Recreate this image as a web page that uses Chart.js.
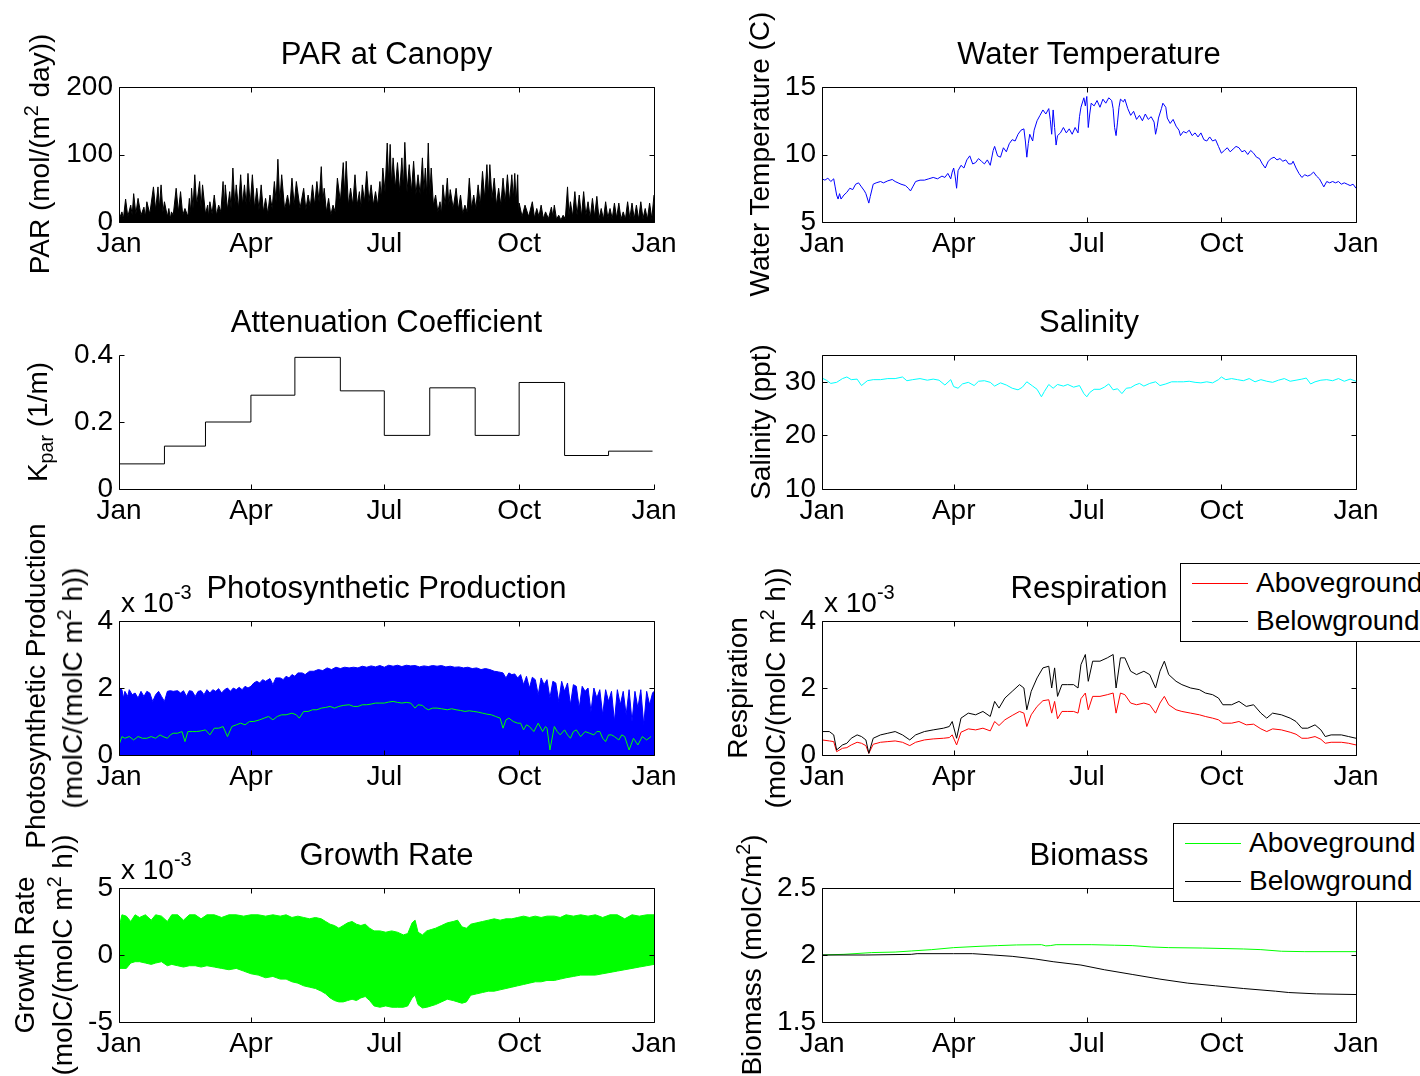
<!DOCTYPE html>
<html><head><meta charset="utf-8">
<script src="https://cdn.jsdelivr.net/npm/chart.js@4.4.1/dist/chart.umd.min.js"></script>
<style>
html,body{margin:0;padding:0;background:#fff;}
#fig{position:relative;width:1420px;height:1076px;overflow:hidden;background:#fff;font-family:"Liberation Sans",Arial,Helvetica,sans-serif;color:#000;}
#fig canvas{position:absolute;}
.t{position:absolute;white-space:nowrap;line-height:1;}
.title{font-size:31px;text-align:center;width:600px;}
.yl{font-size:28px;transform:translate(-50%,-50%) rotate(-90deg);}
.sup{font-size:0.7em;position:relative;top:-0.55em;}
.sub{font-size:0.7em;position:relative;top:0.3em;}
.mult{font-size:28px;}
.sup3{font-size:20px;position:relative;top:-13px;}
.leg{position:absolute;border:1px solid #000;background:#fff;box-sizing:border-box;}
.lline{position:absolute;height:1px;}
.lt{font-size:28px;}
</style>
</head><body>
<div id="fig"></div>
<script>
// ---------- shared axis data ----------
const monthTickDays = [0, 90, 181, 273, 365];
const monthTickLabels = ['Jan', 'Apr', 'Jul', 'Oct', 'Jan'];

// ---------- PAR at Canopy ----------
const parTicks = [0, 100, 200];
const parTickLabels = ['0', '100', '200'];
const parDays = [
 0,2,3,4.5,6,8,9,10,11.5,13,
 15,17,18,19,21,23.5,25,26.6,27.5,28.7,
 30,31,33,34,35,35.8,37,39,40.5,42,
 43.5,45,47,48,49,49.5,50.5,51.7,53,55,
 56,57,59,60.5,61,62,63.5,65,66.5,68,
 69.5,71,71.8,72.5,74,75.5,76.5,77.7,79,80,
 81.5,83,84.3,85.6,86.8,88,89.5,91,92.5,94,
 95.5,97,98.5,100,101.5,103,104.5,106,107.2,108.4,
 109.7,111,113,115,116.5,118,119.5,121,123.5,126,
 127.5,129,130.5,132,133.5,135,136.5,138,139,140,
 141.5,143,144.5,146,147.5,149,151,153,154,155,
 156.5,158,159.5,161,162.5,164,165,166,167.5,169,
 170.5,172,173.5,175,176.5,178,179,180,181.5,183,
 184,185,186,187,188.5,190,191.5,193,194,195,
 196.5,198,199.5,201,202.5,204,205.5,207,208,209,
 210,211,212,213,214.5,216,217.5,219,220,221,
 222.5,224,225,226,228,230,231.5,233,234.5,236,
 237.5,239,240.5,242,243.5,245,246.5,248,249.5,251,
 252,253,254.5,256,257.5,259,260.5,262,263.5,265,
 266.5,268,269,270,271,272,272.6,273,275,277,
 279.5,282,283.5,285,286.5,288,289.5,291,293,295,
 296,297,298.5,300,301.5,303,304.5,306,307,308,
 309.5,311,312.5,314,315.5,317,318.5,320,321.5,323,
 324.5,326,327.5,329,330.5,332,333.5,335,336.5,338,
 339.5,341,342.5,344,345.5,347,348.5,350,351.5,353,
 354.5,356,357.5,359,360.5,362,363.5,365];
const parValues = [
 3,15,5,34,8,25,10,42,12,35,
 10,22,8,30,12,52,18,52,20,55,
 15,30,8,20,5,15,10,50,15,45,
 10,20,8,35,15,50,20,70,25,60,
 20,55,12,25,8,30,12,40,10,25,
 15,60,20,55,18,45,20,80,25,55,
 20,70,25,55,25,72,25,70,20,50,
 18,55,15,35,12,40,20,60,30,93,
 30,70,18,40,20,65,25,60,20,50,
 18,40,22,55,25,60,30,82,30,50,
 15,35,10,25,15,65,30,88,40,90,
 25,50,25,70,25,45,22,55,30,75,
 30,55,25,45,25,60,35,80,45,117,
 60,115,55,95,50,88,45,95,50,118,
 45,85,45,90,40,70,40,95,45,80,
 40,117,40,80,25,40,15,30,12,55,
 25,65,25,48,20,50,18,40,12,25,
 15,65,20,40,20,55,25,75,35,85,
 40,85,35,65,25,50,25,65,30,70,
 30,70,35,72,30,70,10,28,8,25,
 8,30,6,20,8,25,5,15,5,22,
 8,25,4,10,3,10,5,52,10,30,
 8,45,10,40,8,45,10,30,6,35,
 8,38,5,20,4,30,6,20,5,28,
 6,28,4,15,4,30,5,28,5,25,
 4,30,5,20,4,28,5,40];

// ---------- Water Temperature ----------
const tempTicks = [5, 10, 15];
const tempTickLabels = ['5', '10', '15'];
const tempDays = [
 0,2,4,6,8,9,10,11,12,13,
 15,17,19,21,23,25,27,29,30,32,
 33,35,37,40,42,45,48,50,52,54,
 57,59,60.5,62,64,67,70,73,76,79,
 82,84,86,88,89,90,91,92,93,95,
 97,99,101,103,105,107,109,111,113,115,
 117,118,120,122,124,126,128,130,132,134,
 136,138,139,140,141,142,144,145,147,149,
 151,153,155,156,157,158,159,160,161,163,
 165,167,169,171,173,175,176,177,179,180,
 181,182,183,184,186,188,190,192,194,196,
 198,199,200,201,202,203,204,206,207,209,
 211,213,215,217,219,221,223,225,227,228,
 229,230,232,233,235,236,238,240,242,244,
 245,247,249,251,253,255,257,259,261,263,
 265,267,269,271,273,275,277,279,281,283,
 285,287,289,291,293,295,297,299,301,303,
 305,307,309,311,313,315,317,319,321,322,
 324,326,328,330,332,334,336,338,340,342,
 343,345,347,349,351,353,355,357,359,361,
 363,365];
const tempValues = [
 8.2,8.1,8.25,8.0,8.2,7.6,7.0,6.7,7.1,6.7,
 7.0,7.2,7.5,7.4,7.8,7.9,7.6,7.3,7.1,6.4,
 6.9,7.8,7.9,8.0,7.9,8.05,8.15,8.0,7.9,7.8,
 7.7,7.5,7.3,7.6,8.0,8.1,8.1,8.2,8.3,8.2,
 8.4,8.3,8.6,8.2,8.7,9.0,8.4,7.5,8.8,9.2,
 9.0,9.6,9.9,9.3,9.4,9.7,9.5,9.3,9.6,9.2,
 10.3,10.6,9.9,9.8,10.5,10.2,10.8,11.1,11.0,11.5,
 11.8,11.9,11.0,9.8,10.8,11.5,11.0,11.8,12.5,12.9,
 13.3,13.0,13.4,12.6,11.5,13.3,12.0,10.7,11.4,11.6,
 12.0,11.6,11.9,11.5,12.0,11.6,12.8,13.5,14.2,13.6,
 14.3,12.0,13.0,13.8,13.6,14.0,13.5,14.1,13.8,14.2,
 14.0,13.4,12.0,11.4,12.4,13.5,14.1,13.9,14.1,13.4,
 12.9,13.2,12.6,12.9,12.5,13.0,12.6,12.8,12.4,11.5,
 12.0,12.7,13.4,13.8,13.5,12.7,12.3,12.6,12.1,11.8,
 11.4,11.7,11.6,11.8,11.4,11.6,11.3,11.6,11.1,11.0,
 11.3,11.0,11.1,10.6,10.1,10.3,10.5,10.2,10.4,10.6,
 10.5,10.2,10.3,10.0,10.3,10.1,9.8,9.7,9.3,9.0,
 9.5,9.7,9.8,9.6,9.7,9.5,9.6,9.3,9.3,9.5,
 9.0,8.6,8.3,8.5,8.4,8.5,8.7,8.4,8.2,7.8,
 7.6,8.0,7.9,8.0,7.9,8.0,7.8,7.9,7.8,7.7,
 7.8,7.5];

// ---------- Attenuation Coefficient ----------
const kparTicks = [0, 0.2, 0.4];
const kparTickLabels = ['0', '0.2', '0.4'];
const kparDays = [0, 31, 59, 90, 120, 151, 181, 212, 243, 273, 304, 334, 364];
const kparValues = [0.075, 0.128, 0.2, 0.28, 0.393, 0.293, 0.16, 0.302, 0.16, 0.318, 0.10, 0.113, 0.113];

// ---------- Salinity ----------
const salTicks = [10, 20, 30];
const salTickLabels = ['10', '20', '30'];
const salDays = [
 0,3,6,10,14,17,20,24,27,31,
 35,40,45,50,55,58,62,67,72,76,
 80,84,88,90,93,96,100,104,107,111,
 115,118,122,126,130,134,137,140,144,147,
 150,152,155,158,161,165,168,172,176,179,
 181,183,186,190,193,196,199,202,205,208,
 211,214,217,220,224,228,231,235,239,243,
 247,251,255,259,263,267,271,273,276,280,
 284,288,292,296,300,304,308,312,316,320,
 324,328,331,334,337,341,345,349,353,357,
 361,365];
const salValues = [
 30.7,30.3,29.7,29.9,30.6,30.9,30.4,30.5,29.3,30.2,
 30.4,30.4,30.6,30.6,30.9,30.2,30.4,30.6,30.3,30.5,
 30.3,29.4,30.4,29.1,28.8,29.6,29.9,29.3,30.1,30.2,
 29.9,29.2,29.8,29.4,28.8,28.5,29.0,30.0,29.2,28.6,
 27.2,28.2,29.5,28.8,29.5,29.2,29.5,29.0,29.3,27.8,
 27.2,28.0,28.6,28.6,29.0,29.6,28.5,28.7,27.8,28.8,
 28.9,29.4,29.7,29.2,29.7,30.0,29.3,29.6,30.0,30.0,
 30.0,30.1,29.9,29.8,30.0,29.8,30.4,30.9,30.4,30.6,
 30.4,30.2,30.6,30.0,30.4,30.1,29.9,30.3,30.6,30.1,
 30.3,30.5,30.7,29.6,30.0,30.3,30.4,30.2,30.6,30.1,
 30.5,30.1];

// ---------- Photosynthetic Production (x 1e-3) ----------
const photoTicks = [0, 2, 4];
const photoTickLabels = ['0', '2', '4'];
const photoEnvDays = [
 0,2,3,4,6,7,9,11,13,15,
 17,19,21,23,25,27,29,31,33,35,
 37,40,42,44,46,48,50,52,54,56,
 58,60,62,64,66,68,70,72,74,76,
 78,80,82,84,86,88,90,92,94,96,
 98,100,103,105,107,110,112,114,116,118,
 120,122,125,127,130,133,136,139,142,145,
 148,151,154,157,160,163,166,169,172,175,
 178,181,184,187,190,193,196,199,202,205,
 208,211,214,217,220,223,226,229,232,235,
 238,241,244,247,250,253,256,259,262,264,
 266,268,270,272,274,276,278,280,282,284,
 286,288,290,292,294,296,298,300,302,304,
 306,308,310,312,314,316,318,320,322,324,
 326,328,330,332,334,336,338,340,342,344,
 346,348,350,352,354,356,358,360,362,364,365];
const photoEnvValues = [
 2.0,1.95,1.7,1.9,1.75,1.95,1.8,1.85,1.7,1.9,
 1.75,1.9,1.85,1.6,1.8,1.9,1.75,1.6,1.9,1.92,
 1.9,1.92,1.85,1.92,1.75,1.92,1.9,1.75,1.9,1.92,
 1.8,1.95,1.85,1.95,1.9,1.98,1.85,1.95,2.0,1.9,
 2.0,1.95,2.02,1.95,2.05,2.0,2.05,2.15,2.2,2.15,
 2.25,2.2,2.28,2.1,2.3,2.3,2.25,2.35,2.3,2.4,
 2.35,2.45,2.45,2.4,2.5,2.5,2.55,2.52,2.6,2.55,
 2.62,2.58,2.62,2.6,2.62,2.6,2.65,2.62,2.66,2.63,
 2.67,2.62,2.68,2.65,2.68,2.64,2.68,2.66,2.67,2.63,
 2.66,2.64,2.67,2.65,2.67,2.63,2.65,2.62,2.63,2.6,
 2.62,2.58,2.6,2.55,2.58,2.55,2.5,2.48,2.45,2.3,
 2.45,2.4,2.42,2.3,2.4,2.1,2.35,2.0,2.32,2.25,
 1.8,2.3,2.1,2.25,1.7,2.2,2.15,1.6,2.2,1.9,
 2.15,1.5,2.1,2.05,1.4,2.05,1.9,2.0,1.3,2.0,
 1.7,1.95,1.2,1.95,1.6,1.9,1.0,1.95,1.5,1.9,
 1.2,1.95,1.0,1.9,1.4,1.95,0.9,1.9,1.5,1.85,1.9];
const photoMeanDays = [
 0,2,4,7,10,13,16,19,22,25,
 28,30,33,35,37,40,43,45,47,50,
 53,56,59,62,65,68,71,74,77,80,
 83,86,89,92,96,99,102,105,108,111,
 114,118,121,123,126,129,132,135,138,141,
 144,147,150,153,157,160,163,166,169,172,
 175,178,181,184,187,190,193,196,199,202,
 204,207,209,211,214,217,220,224,227,230,
 233,236,239,242,245,248,251,254,257,260,
 262,264,266,269,272,274,276,278,280,283,
 286,289,291,292,294,297,299,301,304,306,
 308,310,312,315,318,321,324,326,328,330,
 332,334,336,338,341,343,345,348,351,354,
 357,360,363];
const photoMeanValues = [
 0.3,0.55,0.5,0.55,0.45,0.55,0.5,0.5,0.55,0.5,
 0.6,0.55,0.5,0.6,0.65,0.65,0.7,0.4,0.7,0.7,
 0.7,0.72,0.75,0.6,0.8,0.8,0.85,0.55,0.85,0.9,
 0.95,0.9,1.0,1.0,1.05,1.1,1.15,1.05,1.15,1.2,
 1.2,1.25,1.2,1.1,1.3,1.3,1.35,1.35,1.4,1.42,
 1.45,1.4,1.45,1.48,1.5,1.45,1.45,1.5,1.5,1.52,
 1.55,1.55,1.55,1.58,1.6,1.57,1.55,1.57,1.55,1.4,
 1.5,1.48,1.4,1.35,1.4,1.4,1.38,1.35,1.38,1.35,
 1.33,1.3,1.32,1.3,1.28,1.25,1.22,1.2,1.15,1.1,
 0.8,1.05,1.1,1.0,0.95,0.95,0.75,0.9,0.85,0.7,
 0.95,0.7,0.85,0.8,0.15,0.85,0.7,0.6,0.75,0.6,
 0.5,0.7,0.75,0.55,0.7,0.65,0.6,0.7,0.7,0.5,
 0.4,0.6,0.6,0.55,0.45,0.6,0.55,0.15,0.5,0.3,
 0.55,0.45,0.55];

// ---------- Respiration (x 1e-3) ----------
const respTicks = [0, 2, 4];
const respTickLabels = ['0', '2', '4'];
const respDays = [
 0,5,8,10,14,17,20,24,27,30,
 32,35,40,45,50,55,60,64,70,76,
 83,87,89,92,95,100,105,110,115,118,
 121,125,130,135,138,140,143,147,151,155,
 157,159,161,164,168,172,175,177,180,182,
 185,190,195,199,201,204,207,211,215,220,
 224,228,231,234,237,242,246,252,258,262,
 267,271,274,280,285,290,295,300,304,308,
 314,320,324,328,332,337,341,344,348,355,
 360,365];
const respBelow = [
 0.7,0.7,0.6,0.15,0.3,0.35,0.5,0.6,0.55,0.45,
 0.05,0.5,0.6,0.65,0.7,0.6,0.45,0.6,0.7,0.75,
 0.8,0.85,1.0,0.5,1.1,1.25,1.2,1.3,1.15,1.6,
 1.4,1.7,1.9,2.1,2.0,1.35,1.9,2.3,2.6,2.65,
 2.0,2.6,1.75,2.1,2.1,2.1,2.0,2.7,3.0,2.2,
 2.8,2.8,2.9,3.0,2.0,2.9,2.9,2.5,2.4,2.5,
 2.4,2.0,2.5,2.8,2.4,2.2,2.1,2.0,1.95,1.85,
 1.8,1.7,1.5,1.5,1.6,1.45,1.5,1.25,1.1,1.25,
 1.2,1.1,1.0,0.8,0.8,0.9,0.75,0.55,0.6,0.6,
 0.55,0.5];
const respAbove = [
 0.45,0.42,0.4,0.1,0.2,0.22,0.3,0.38,0.35,0.28,
 0.05,0.32,0.38,0.4,0.42,0.38,0.28,0.38,0.45,0.48,
 0.5,0.52,0.6,0.3,0.68,0.78,0.75,0.8,0.72,1.0,
 0.88,1.05,1.18,1.3,1.25,0.85,1.2,1.45,1.62,1.65,
 1.25,1.6,1.08,1.3,1.3,1.3,1.25,1.68,1.85,1.35,
 1.75,1.75,1.8,1.85,1.25,1.85,1.8,1.55,1.5,1.55,
 1.5,1.25,1.55,1.75,1.5,1.35,1.3,1.25,1.2,1.15,
 1.1,1.05,0.95,0.95,1.0,0.9,0.92,0.78,0.7,0.78,
 0.75,0.68,0.62,0.5,0.5,0.55,0.47,0.35,0.38,0.38,
 0.35,0.3];

// ---------- Growth Rate (x 1e-3) ----------
const growthTicks = [-5, 0, 5];
const growthTickLabels = ['-5', '0', '5'];
const growthDays = [
 0,2,5,8,11,14,18,22,25,29,
 33,36,40,44,48,52,56,60,65,70,
 75,80,85,90,95,100,105,110,114,118,
 122,126,130,134,138,141,144,147,150,153,
 156,159,162,165,168,171,174,178,182,186,
 190,194,197,200,202,204,207,210,213,216,
 220,224,228,231,234,237,240,244,248,252,
 256,260,264,268,272,276,280,284,288,292,
 297,301,305,310,315,320,325,330,335,340,
 345,350,355,360,365];
const growthUpper = [
 2.0,3.0,2.9,2.5,3.0,2.8,3.0,2.6,3.0,2.9,
 2.5,3.0,3.0,2.6,3.0,3.0,2.7,3.0,3.0,2.8,
 3.0,3.0,2.9,3.0,3.0,2.9,3.0,2.9,3.0,2.8,
 2.9,2.8,2.7,2.8,2.7,2.5,2.3,2.2,2.0,2.2,
 2.4,2.5,2.3,2.2,2.3,2.0,1.8,1.8,1.7,1.8,
 1.7,1.5,1.6,2.4,2.6,1.7,1.5,1.8,1.9,2.0,
 2.2,2.4,2.5,2.6,2.1,2.0,2.3,2.4,2.5,2.6,
 2.7,2.6,2.7,2.7,2.8,2.9,2.8,2.9,2.8,2.9,
 2.9,2.8,3.0,2.9,3.0,2.9,3.0,2.8,3.0,3.0,
 2.7,3.0,2.9,3.0,3.0];
const growthLower = [
 -1.0,-1.0,-1.0,-0.6,-0.5,-0.5,-0.6,-0.7,-0.6,-0.5,
 -0.8,-0.7,-0.8,-0.9,-0.8,-0.8,-0.9,-0.8,-0.9,-1.0,
 -1.1,-1.0,-1.2,-1.4,-1.5,-1.7,-1.6,-1.8,-1.8,-2.0,
 -2.1,-2.3,-2.4,-2.5,-2.7,-2.9,-3.2,-3.4,-3.5,-3.5,
 -3.4,-3.3,-3.4,-3.2,-3.1,-3.4,-3.8,-3.9,-3.8,-3.9,
 -3.9,-3.9,-3.8,-3.2,-3.0,-3.7,-3.95,-3.9,-3.8,-3.7,
 -3.5,-3.3,-3.4,-3.5,-3.6,-3.5,-3.0,-2.9,-2.8,-2.7,
 -2.7,-2.6,-2.5,-2.4,-2.3,-2.2,-2.1,-2.0,-2.0,-1.9,
 -1.9,-1.8,-1.7,-1.6,-1.5,-1.5,-1.5,-1.4,-1.3,-1.2,
 -1.1,-1.0,-0.9,-0.8,-0.7];

// ---------- Biomass ----------
const bioTicks = [1.5, 2, 2.5];
const bioTickLabels = ['1.5', '2', '2.5'];
const bioAboveDays = [0,15,34,50,61,75,90,108,120,133,150,153,156,160,184,200,212,225,237,260,288,300,314,330,365];
const bioAbove = [2.0,2.005,2.018,2.022,2.03,2.04,2.055,2.065,2.07,2.075,2.077,2.068,2.07,2.077,2.077,2.073,2.07,2.06,2.055,2.052,2.045,2.04,2.028,2.025,2.025];
const bioBelowDays = [0,30,61,65,90,103,117,130,146,158,177,193,212,231,250,269,288,310,319,338,365];
const bioBelow = [2.0,2.0,2.005,2.01,2.01,2.01,2.0,1.99,1.97,1.95,1.925,1.89,1.855,1.82,1.79,1.77,1.75,1.73,1.72,1.71,1.705];

// ---------- helpers ----------
function xy(days, vals) { return days.map((d, i) => ({ x: d, y: vals[i] })); }

Chart.defaults.font.family = '"Liberation Sans", Arial, Helvetica, sans-serif';
Chart.defaults.color = '#000';

const matlabAxes = {
  id: 'matlabAxes',
  afterDatasetsDraw(chart, args, opts) {
    const ctx = chart.ctx;
    const a = chart.chartArea;
    const xs = chart.scales.x, ys = chart.scales.y;
    const L = Math.round(a.left) + 0.5, R = Math.round(a.right) + 0.5;
    const T = Math.round(a.top) + 0.5, B = Math.round(a.bottom) + 0.5;
    const tl = 5;
    ctx.save();
    ctx.strokeStyle = '#000';
    ctx.lineWidth = 1;
    ctx.beginPath();
    if (opts.box) {
      ctx.rect(L, T, R - L, B - T);
    } else {
      ctx.moveTo(L, T); ctx.lineTo(L, B); ctx.lineTo(R, B);
    }
    xs.ticks.forEach(t => {
      const px = Math.round(xs.getPixelForValue(t.value)) + 0.5;
      ctx.moveTo(px, B); ctx.lineTo(px, B - tl);
      if (opts.box) { ctx.moveTo(px, T); ctx.lineTo(px, T + tl); }
    });
    ys.ticks.forEach(t => {
      const py = Math.round(ys.getPixelForValue(t.value)) + 0.5;
      ctx.moveTo(L, py); ctx.lineTo(L + tl, py);
      if (opts.box) { ctx.moveTo(R, py); ctx.lineTo(R - tl, py); }
    });
    ctx.stroke();
    ctx.restore();
  }
};

const fig = document.getElementById('fig');

function makeChart(plotL, plotT, plotW, plotH, yMin, yMax, yTicks, yTickLabels, datasets, box) {
  const padL = 100, padR = 44, padT = 20, padB = 45;
  const cv = document.createElement('canvas');
  cv.width = padL + plotW + padR;
  cv.height = padT + plotH + padB;
  cv.style.left = (plotL - padL) + 'px';
  cv.style.top = (plotT - padT) + 'px';
  fig.appendChild(cv);
  return new Chart(cv, {
    type: 'line',
    data: { datasets },
    options: {
      responsive: false,
      animation: false,
      devicePixelRatio: 1,
      layout: { padding: { left: 0, right: padR, top: padT, bottom: 0 } },
      elements: { point: { radius: 0 }, line: { tension: 0, borderWidth: 1 } },
      plugins: { legend: { display: false }, tooltip: { enabled: false }, matlabAxes: { box } },
      scales: {
        x: {
          type: 'linear', min: 0, max: 365,
          grid: { display: false, drawTicks: false }, border: { display: false },
          afterBuildTicks: s => { s.ticks = monthTickDays.map(v => ({ value: v })); },
          afterFit: s => { s.height = padB; },
          ticks: { autoSkip: false, maxRotation: 0, padding: 8, color: '#000',
                   font: { size: 28, lineHeight: 1 },
                   callback: (v, i) => monthTickLabels[i] }
        },
        y: {
          type: 'linear', min: yMin, max: yMax,
          grid: { display: false, drawTicks: false }, border: { display: false },
          afterBuildTicks: s => { s.ticks = yTicks.map(v => ({ value: v })); },
          afterFit: s => { s.width = padL; },
          ticks: { autoSkip: false, padding: 6, color: '#000',
                   font: { size: 28, lineHeight: 1 },
                   callback: (v, i) => yTickLabels[i] }
        }
      }
    },
    plugins: [matlabAxes]
  });
}

const LW = 535, RW = 534, LX = 119, RX = 822;
const rows = [[87, 135], [355, 134], [621, 134], [888, 134]];

// PAR
makeChart(LX, rows[0][0], LW, rows[0][1], 0, 200, parTicks, parTickLabels, [
  { data: xy(parDays, parValues), borderColor: '#000', backgroundColor: '#000', fill: 'origin', borderWidth: 1 }
], true);
// Water temperature
makeChart(RX, rows[0][0], RW, rows[0][1], 5, 15, tempTicks, tempTickLabels, [
  { data: xy(tempDays, tempValues), borderColor: '#0000ff', fill: false }
], true);
// Attenuation coefficient
makeChart(LX, rows[1][0], LW, rows[1][1], 0, 0.4, kparTicks, kparTickLabels, [
  { data: xy(kparDays, kparValues), borderColor: '#000', stepped: true, fill: false }
], false);
// Salinity
makeChart(RX, rows[1][0], RW, rows[1][1], 10, 35, salTicks, salTickLabels, [
  { data: xy(salDays, salValues), borderColor: '#00ffff', fill: false }
], true);
// Photosynthetic production
makeChart(LX, rows[2][0], LW, rows[2][1], 0, 4, photoTicks, photoTickLabels, [
  { data: xy(photoMeanDays, photoMeanValues), borderColor: '#00ff00', fill: false },
  { data: xy(photoEnvDays, photoEnvValues), borderColor: '#0000ff', backgroundColor: '#0000ff', fill: 'origin' }
], true);
// Respiration
makeChart(RX, rows[2][0], RW, rows[2][1], 0, 4, respTicks, respTickLabels, [
  { data: xy(respDays, respBelow), borderColor: '#000000', fill: false },
  { data: xy(respDays, respAbove), borderColor: '#ff0000', fill: false }
], true);
// Growth rate
makeChart(LX, rows[3][0], LW, rows[3][1], -5, 5, growthTicks, growthTickLabels, [
  { data: xy(growthDays, growthUpper), borderColor: '#00ff00', backgroundColor: '#00ff00', fill: '+1' },
  { data: xy(growthDays, growthLower), borderColor: '#00ff00', fill: false }
], true);
// Biomass
makeChart(RX, rows[3][0], RW, rows[3][1], 1.5, 2.5, bioTicks, bioTickLabels, [
  { data: xy(bioBelowDays, bioBelow), borderColor: '#000000', fill: false },
  { data: xy(bioAboveDays, bioAbove), borderColor: '#00ff00', fill: false }
], true);

// ---------- text overlays ----------
function addText(html, cls, style) {
  const d = document.createElement('div');
  d.className = 't ' + cls;
  d.innerHTML = html;
  Object.assign(d.style, style);
  fig.appendChild(d);
  return d;
}
function title(txt, cx, plotTop) {
  addText(txt, 'title', { left: (cx - 300) + 'px', top: (plotTop - 34 - 15.5) + 'px' });
}
function ylabel(html, cx, cy) {
  addText(html, 'yl', { left: cx + 'px', top: cy + 'px' });
}
const LC = 386.5, RC = 1089;
title('PAR at Canopy', LC, 87);
title('Water Temperature', RC, 87);
title('Attenuation Coefficient', LC, 355);
title('Salinity', RC, 355);
title('Photosynthetic Production', LC, 621);
title('Respiration', RC, 621);
title('Growth Rate', LC, 888);
title('Biomass', RC, 888);

const SUP2 = '<span class="sup">2</span>';
ylabel('PAR (mol/(m' + SUP2 + ' day))', 40, 154);
ylabel('Water Temperature (C)', 760, 154);
ylabel('K<span class="sub">par</span>&nbsp;(1/m)', 38, 422);
ylabel('Salinity (ppt)', 761, 422);
ylabel('Photosynthetic Production', 36, 686);
ylabel('(molC/(molC m' + SUP2 + ' h))', 73, 688);
ylabel('Respiration', 738, 688);
ylabel('(molC/(molC m' + SUP2 + ' h))', 776, 688);
ylabel('Growth Rate', 25, 955);
ylabel('(molC/(molC m' + SUP2 + ' h))', 63, 955);
ylabel('Biomass (molC/m' + SUP2 + ')', 752, 955);

const MULT = 'x 10<span class="sup3">-3</span>';
addText(MULT, 'mult', { left: '121px', top: (621 - 32) + 'px' });
addText(MULT, 'mult', { left: '824px', top: (621 - 32) + 'px' });
addText(MULT, 'mult', { left: '121px', top: (888 - 32) + 'px' });

// ---------- legends ----------
function legend(left, top, entries) {
  const box = document.createElement('div');
  box.className = 'leg';
  Object.assign(box.style, { left: left + 'px', top: top + 'px', width: '270px', height: '79px' });
  fig.appendChild(box);
  entries.forEach((e, i) => {
    const ly = top + 20 + i * 38;
    const ln = document.createElement('div');
    ln.className = 'lline';
    Object.assign(ln.style, { left: (left + 12) + 'px', top: ly + 'px', width: '56px', background: e.color });
    fig.appendChild(ln);
    addText(e.label, 'lt', { left: (left + 76) + 'px', top: (ly - 14) + 'px' });
  });
}
legend(1180, 563, [{ label: 'Aboveground', color: '#ff0000' }, { label: 'Belowground', color: '#000000' }]);
legend(1173, 823, [{ label: 'Aboveground', color: '#00ff00' }, { label: 'Belowground', color: '#000000' }]);
</script>
</body></html>
